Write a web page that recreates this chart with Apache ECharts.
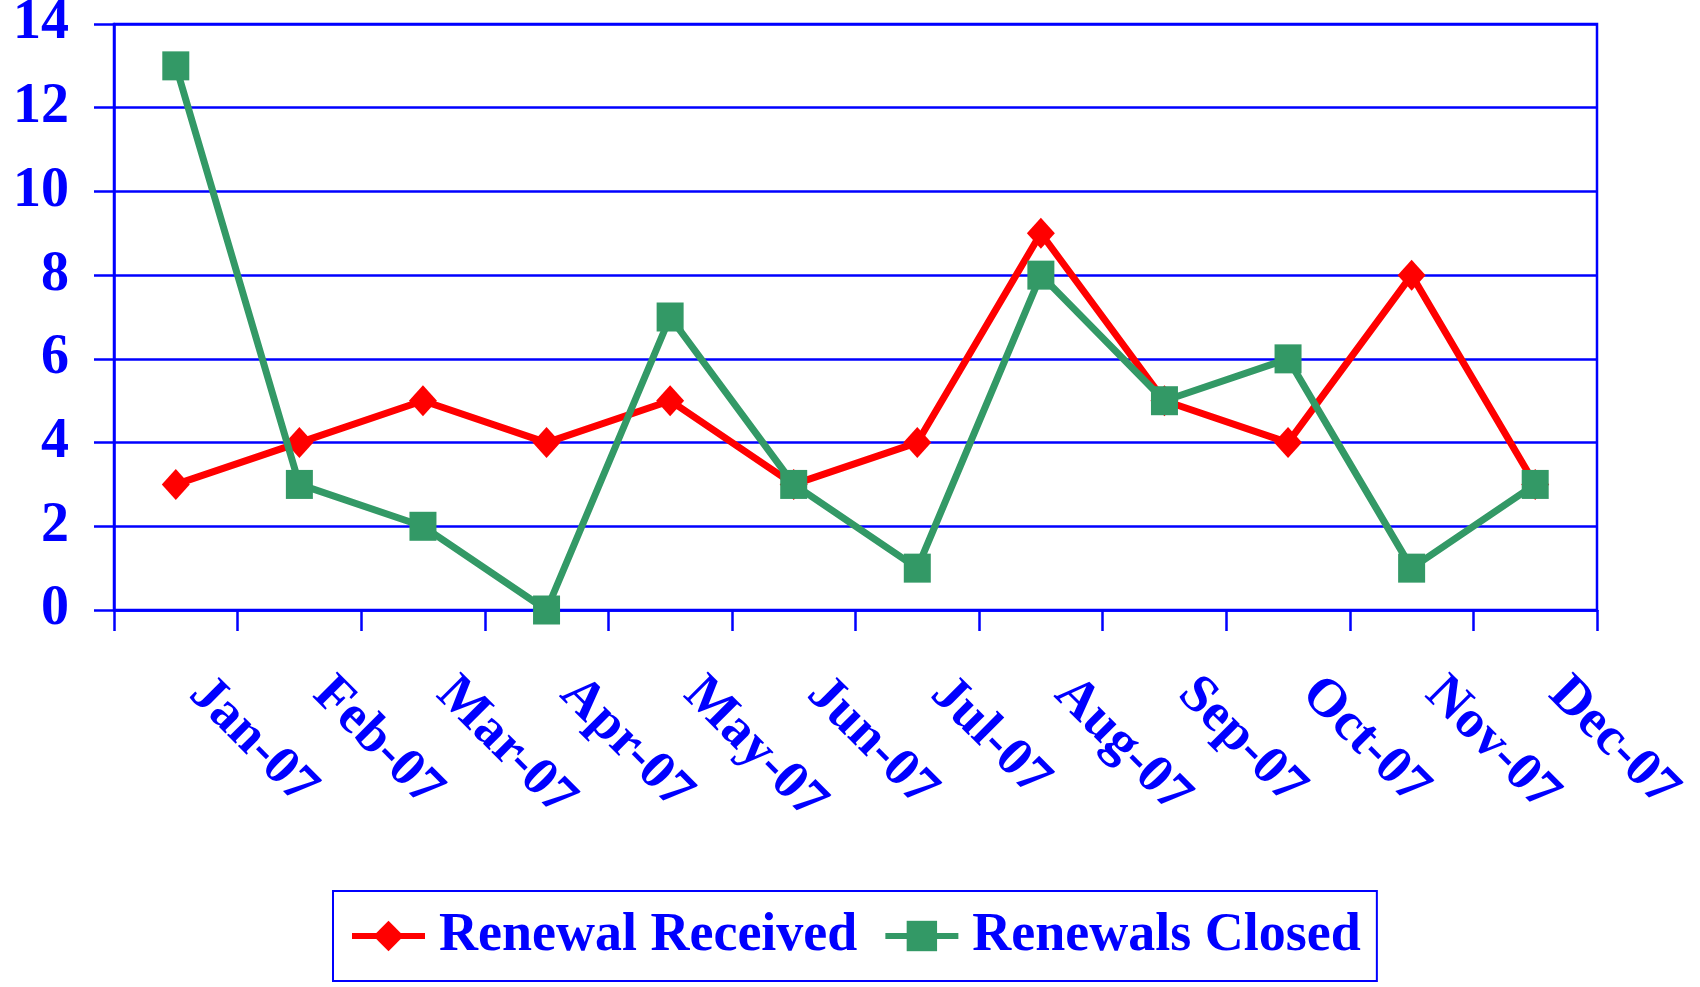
<!DOCTYPE html>
<html>
<head>
<meta charset="utf-8">
<script src="https://cdn.jsdelivr.net/npm/echarts@6/dist/echarts.min.js"></script>
<style>
  html, body { margin: 0; padding: 0; background: #fff; }
  #main { width: 1700px; height: 987px; }
</style>
</head>
<body>
<div id="main"></div>
<script>
  // months on the x axis
  var months = ['Jan-07', 'Feb-07', 'Mar-07', 'Apr-07', 'May-07', 'Jun-07',
                'Jul-07', 'Aug-07', 'Sep-07', 'Oct-07', 'Nov-07', 'Dec-07'];
  var receivedData = [3, 4, 5, 4, 5, 3, 4, 9, 5, 4, 8, 3];
  var closedData = [13, 3, 2, 0, 7, 3, 1, 8, 5, 6, 1, 3];
  var yTicks = [0, 2, 4, 6, 8, 10, 12, 14];

  var blue = '#0000FF';
  var font = '"Liberation Serif", "Times New Roman", serif';

  var chartDom = document.getElementById('main');
  var myChart = echarts.init(chartDom);
  var option;

  option = {
    backgroundColor: '#ffffff',
    animation: false,
    grid: {
      left: 114,
      right: 103,
      top: 24,
      bottom: 377,
      outerBoundsMode: 'none',
      show: true,
      borderColor: blue,
      borderWidth: 2.5
    },
    legend: {
      left: 333,
      top: 891,
      padding: [14, 16, 14, 16],
      borderColor: blue,
      borderWidth: 2,
      itemWidth: 73,
      itemHeight: 38,
      itemGap: 25,
      data: ['Renewal Received', 'Renewals Closed'],
      lineStyle: { width: 6 },
      textStyle: {
        color: blue,
        fontFamily: font,
        fontWeight: 'bold',
        fontSize: 54,
        lineHeight: 62,
        padding: [0, 0, 0, 9]
      }
    },
    xAxis: {
      type: 'category',
      data: months,
      boundaryGap: true,
      axisLine: { lineStyle: { color: blue, width: 2.5 } },
      axisTick: { show: true, length: 21, lineStyle: { color: blue, width: 2.5 } },
      axisLabel: {
        rotate: -45,
        margin: 54,
        padding: [0, 0, 0, 31],
        color: blue,
        fontFamily: font,
        fontWeight: 'bold',
        fontSize: 54
      }
    },
    yAxis: {
      type: 'value',
      min: yTicks[0],
      max: yTicks[yTicks.length - 1],
      interval: 2,
      axisLine: { show: true, lineStyle: { color: blue, width: 2.5 } },
      axisTick: { show: true, length: 20, lineStyle: { color: blue, width: 2.5 } },
      splitLine: { show: true, lineStyle: { color: blue, width: 2.5 } },
      axisLabel: {
        margin: 45,
        color: blue,
        fontFamily: font,
        fontWeight: 'bold',
        fontSize: 56
      }
    },
    series: [
      {
        name: 'Renewal Received',
        type: 'line',
        data: receivedData,
        symbol: 'diamond',
        symbolSize: [28, 31],
        itemStyle: { color: '#FF0000' },
        lineStyle: { color: '#FF0000', width: 7 },
        z: 2
      },
      {
        name: 'Renewals Closed',
        type: 'line',
        data: closedData,
        symbol: 'rect',
        symbolSize: [27, 29],
        itemStyle: { color: '#339966' },
        lineStyle: { color: '#339966', width: 7 },
        z: 3
      }
    ]
  };

  option && myChart.setOption(option);
</script>
</body>
</html>
